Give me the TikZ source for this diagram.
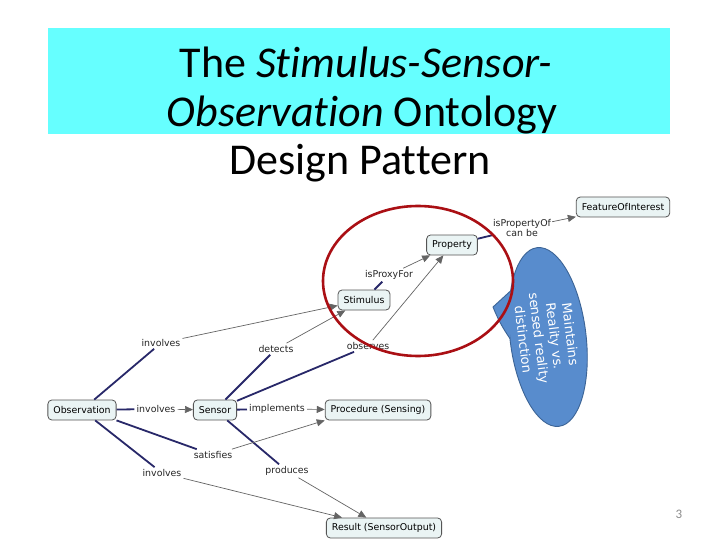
\documentclass[tikz,border=0pt]{standalone}
\usepackage{fontspec}
\setmainfont[RawFeature={-liga;-dlig;-clig}]{Carlito}
\newfontfamily\mapfont{DejaVu Sans}
\usetikzlibrary{arrows.meta}
\definecolor{titlecyan}{RGB}{102,255,255}
\definecolor{nodefill}{RGB}{234,244,244}
\definecolor{nodeborder}{RGB}{85,85,85}
\definecolor{navyline}{RGB}{40,40,105}
\definecolor{thingrey}{RGB}{100,100,100}
\definecolor{circred}{RGB}{170,15,20}
\definecolor{bubblefill}{RGB}{88,140,205}
\definecolor{bubbleedge}{RGB}{60,100,150}
\begin{document}
\begin{tikzpicture}[x=1pt,y=-1pt,
  concept/.style={draw=nodeborder, fill=nodefill, rounded corners=4pt, line width=0.8pt,
    font=\mapfont\fontsize{9.4}{11}\selectfont, inner xsep=5.5pt, inner ysep=0pt, minimum height=20pt},
  lbl/.style={font=\mapfont\fontsize{9.4}{11}\selectfont, inner sep=2pt, text=black!85, align=center},
  src/.style={draw=navyline, line width=1.8pt},
  tgt/.style={draw=thingrey, line width=0.7pt, -{Triangle[length=8pt,width=7pt]}},
  titlefont/.style={font=\fontsize{44}{50}\selectfont, anchor=base, inner sep=0pt}]
\useasboundingbox (0,0) rectangle (720,540);
\fill[white] (0,0) rectangle (720,540);

% title
\fill[titlecyan] (48,28) rectangle (670,134);
\node[titlefont] (t1) at (366,78) {The \textit{Stimulus-Sensor-}};
\node[titlefont] (t2) at (362,127) {\textit{Observation} Ontology};
\node[titlefont] (t3) at (360,175) {Design Pattern};

% concepts
\node[concept] (obs) at (82,410) {Observation};
\node[concept] (sen) at (215,410) {Sensor};
\node[concept] (proc) at (378,410) {Procedure (Sensing)};
\node[concept] (stim) at (364,300) {Stimulus};
\node[concept] (prop) at (452,245) {Property};
\node[concept] (foi) at (623,207) {FeatureOfInterest};
\node[concept] (res) at (384,528) {Result (SensorOutput)};

% linking phrases
\node[lbl] (inv1) at (161,343) {involves};
\node[lbl] (det) at (276,349) {detects};
\node[lbl] (obsv) at (368,346) {observes};
\node[lbl] (prox) at (389,275) {isProxyFor};
\node[lbl, inner sep=1pt] (pof) at (522,228) {isPropertyOf\\[-1pt]can be};
\node[lbl] (inv2) at (156,409) {involves};
\node[lbl] (impl) at (277,409) {implements};
\node[lbl] (sat) at (213,455) {satisfies};
\node[lbl] (inv3) at (162,473) {involves};
\node[lbl] (prod) at (287,471) {produces};

% connectors: source to phrase
\draw[src] (obs) -- (inv1);
\draw[src] (sen) -- (det);
\draw[src] (sen) -- (obsv);
\draw[src] (stim) -- (prox);
\draw[src] (prop) -- (pof);
\draw[src] (obs) -- (inv2);
\draw[src] (sen) -- (impl);
\draw[src] (obs.south east) -- (sat);
\draw[src] (obs) -- (inv3);
\draw[src] (sen) -- (prod);

% connectors: phrase to target
\draw[tgt] (inv1) -- (stim);
\draw[tgt] (det) -- (stim);
\draw[tgt] (obsv) -- (prop);
\draw[tgt] (prox) -- (prop);
\draw[tgt] (pof) -- (foi);
\draw[tgt] (inv2) -- (sen);
\draw[tgt] (impl) -- (proc);
\draw[tgt] (sat) -- (proc.south west);
\draw[tgt] (inv3) -- (res);
\draw[tgt] (prod) -- (res);

% callout bubble
\coordinate (tip) at (493,307);
\begin{scope}[shift={(548,337)}, rotate=7]
  \coordinate (b1) at (214:38 and 90);
  \coordinate (b2) at (182:38 and 90);
  \filldraw[fill=bubblefill, draw=bubbleedge, line width=0.9pt] (0,0) ellipse [x radius=38, y radius=90];
\end{scope}
\fill[bubblefill] (b1) -- (tip) to[bend right=6] (b2) -- cycle;
\draw[bubbleedge, line width=0.9pt, line join=round] (b1) -- (tip) to[bend right=6] (b2);
\node[rotate=-83, text=white, font=\mapfont\fontsize{13}{15.8}\selectfont, align=center] (btext) at (547,337)
  {Maintains\\Reality vs.\\sensed reality\\distinction};

% red circle
\draw[circred, line width=2.6pt] (418,281) ellipse [x radius=95, y radius=75];

% page number
\node[text=black!45, font=\fontsize{13}{15}\selectfont] (pg) at (679,514) {3};
\end{tikzpicture}
\end{document}
